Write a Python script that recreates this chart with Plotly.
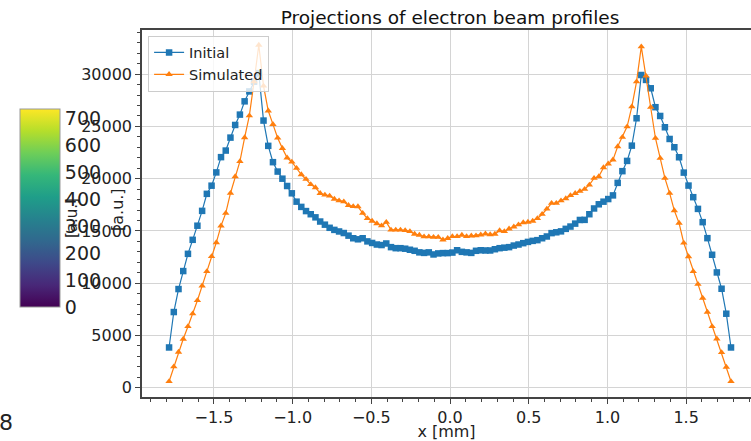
import numpy as np
import plotly.graph_objects as go

# ---- data -------------------------------------------------------------
# 120 histogram bins over [-1.8, 1.8] mm; points are bin centres
bin_edges = np.linspace(-1.8, 1.8, 121)
x_mm = ((bin_edges[:-1] + bin_edges[1:]) / 2).round(3).tolist()

initial = [
    3850, 7240, 9440, 11160, 12810, 14150, 15500, 16920, 18550, 19330,
    20600, 22060, 22690, 23930, 25140, 26130, 27400, 28350, 29280, 30100,
    25560, 23140, 21580, 20680, 20000, 19300, 18600, 17800, 17300, 16900,
    16600, 16300, 15900, 15600, 15300, 15100, 14950, 14800, 14550, 14300,
    14200, 14300, 14000, 13850, 13700, 13650, 13800, 13450, 13350, 13350,
    13300, 13200, 13100, 12950, 12900, 12950, 12750, 12850, 12880, 12880,
    12930, 13150, 13000, 12950, 12900, 13100, 13150, 13130, 13130, 13250,
    13350, 13400, 13450, 13600, 13700, 13830, 13950, 14050, 14120, 14300,
    14470, 14790, 14870, 14960, 15200, 15420, 15700, 16050, 16060, 16600,
    17150, 17550, 17800, 18050, 18400, 19600, 20720, 21700, 23160, 25780,
    29920, 29450, 28650, 26840, 26000, 24920, 23800, 23010, 22050, 20580,
    19340, 18230, 17110, 15840, 14310, 12720, 11030, 9470, 7080, 3850,
]

simulated = [
    600, 2010, 3410, 4660, 5860, 7080, 8350, 9750, 11120, 12560,
    13890, 15490, 16700, 18610, 20200, 21650, 23930, 26030, 29280, 32790,
    28870, 26500, 25200, 23900, 22900, 22000, 21600, 21000, 20400, 19950,
    19450, 19150, 18600, 18450, 18350, 18050, 17900, 17800, 17450, 17350,
    17330, 16700, 16200, 15950, 15700, 15500, 15840, 15100, 15100, 15100,
    15050, 14950, 14700, 14600, 14450, 14450, 14400, 14400, 14150, 14300,
    14470, 14470, 14600, 14470, 14530, 14550, 14630, 14720, 14650, 14700,
    15040, 14950, 15200, 15400, 15600, 15800, 15850, 15950, 16200, 16600,
    17100, 17650, 17660, 17900, 18100, 18400, 18600, 18800, 19000, 19400,
    20050, 20200, 21060, 21420, 21800, 23070, 23970, 24980, 26890, 29280,
    32630, 29830, 26840, 23870, 21960, 20050, 18610, 16950, 15750, 13850,
    12550, 11120, 9910, 8580, 7240, 5860, 4680, 3380, 1980, 600,
]

x_ticks = [-1.5, -1.0, -0.5, 0.0, 0.5, 1.0, 1.5]
y_ticks = [0, 5000, 10000, 15000, 20000, 25000, 30000]
cbar_ticks = [0, 100, 200, 300, 400, 500, 600, 700]
cbar_max = 733

# ---- figure -----------------------------------------------------------
W, H = 751, 441
L, R, T, B = 142, 0, 30, 44
FONT = "DejaVu Sans"
pw = W - L - R
ph = H - T - B


def px_to_paper(px, py):
    return (px - L) / pw, (H - B - py) / ph


fig = go.Figure()

fig.add_trace(go.Scatter(
    x=x_mm, y=initial, mode="lines+markers", name="Initial",
    line=dict(color="#1f77b4", width=1.2),
    marker=dict(symbol="square", size=6.5, color="#1f77b4",
                line=dict(color="#1f77b4", width=0)),
))
fig.add_trace(go.Scatter(
    x=x_mm, y=simulated, mode="lines+markers", name="Simulated",
    line=dict(color="#ff7f0e", width=1.2),
    marker=dict(symbol="triangle-up", size=6.5, color="#ff7f0e",
                line=dict(color="#ff7f0e", width=0)),
))

# dummy trace carrying the colour bar
cbx, cby = px_to_paper(20, 208)
fig.add_trace(go.Scatter(
    x=[None], y=[None], mode="markers", showlegend=False, hoverinfo="skip",
    marker=dict(
        color=[0], colorscale="Viridis", cmin=0, cmax=cbar_max, showscale=True,
        colorbar=dict(
            x=cbx, xanchor="left",
            y=cby, yanchor="middle",
            thickness=40, thicknessmode="pixels",
            len=198, lenmode="pixels",
            xpad=0, ypad=0,
            outlinewidth=1, outlinecolor="#999999",
            tickvals=cbar_ticks, ticks="",
            tickfont=dict(family=FONT, size=19, color="#222222"),
        ),
    ),
))

axis_line = "#444444"
grid_col = "#d4d4d4"

fig.update_layout(
    width=W, height=H,
    margin=dict(l=L, r=R, t=T, b=B, autoexpand=False),
    paper_bgcolor="white", plot_bgcolor="white",
    font=dict(family=FONT, size=16, color="#222222"),
    title=dict(
        text="Projections of electron beam profiles",
        xref="container", yref="container",
        x=450 / W, xanchor="center",
        y=(H - 18) / H, yanchor="middle",
        font=dict(family=FONT, size=18.5, color="#111111"),
    ),
    xaxis=dict(
        range=[-1.957, 1.912], automargin=False,
        tickvals=x_ticks, tickformat=".1f",
        showgrid=True, gridcolor=grid_col, gridwidth=1.3,
        zeroline=False,
        showline=True, linecolor=axis_line, linewidth=1.5, mirror=True,
        ticks="outside", ticklen=5, tickcolor=axis_line, tickwidth=1,
        minor=dict(dtick=0.1, tick0=0, ticks="outside", ticklen=3,
                   tickcolor=axis_line, showgrid=False),
        tickfont=dict(size=16),
        title=dict(text="x [mm]", standoff=2, font=dict(size=16)),
    ),
    yaxis=dict(
        range=[-889, 34226], automargin=False,
        tickvals=y_ticks, tickformat="d",
        showgrid=True, gridcolor=grid_col, gridwidth=1.3,
        zeroline=False,
        showline=True, linecolor=axis_line, linewidth=1.5, mirror=False,
        ticks="outside", ticklen=5, tickcolor=axis_line, tickwidth=1,
        minor=dict(dtick=1000, tick0=0, ticks="outside", ticklen=3,
                   tickcolor=axis_line, showgrid=False),
        tickfont=dict(size=16),
    ),
    legend=dict(
        x=0.01, y=0.985, xanchor="left", yanchor="top",
        bgcolor="rgba(255,255,255,0.8)",
        bordercolor="#cccccc", borderwidth=1,
        font=dict(family=FONT, size=14.5, color="#222222"),
        itemwidth=30, tracegroupgap=0,
    ),
    showlegend=True,
)

# y-axis label of the profiles panel
ax, ay = px_to_paper(117, 210)
fig.add_annotation(text="[a.u.]", x=ax, y=ay, xref="paper", yref="paper",
                   xanchor="center", yanchor="middle",
                   textangle=-90, showarrow=False,
                   font=dict(family=FONT, size=16, color="#222222"))

# colour-bar label
cx, cy = px_to_paper(72, 218)
fig.add_annotation(text="[a.u.]", x=cx, y=cy, xref="paper", yref="paper",
                   xanchor="center", yanchor="middle",
                   textangle=-90, showarrow=False,
                   font=dict(family=FONT, size=15, color="#222222"))

# stray label in lower-left corner
sx, sy = px_to_paper(6, 422)
fig.add_annotation(text="8", x=sx, y=sy, xref="paper", yref="paper",
                   xanchor="center", yanchor="middle",
                   showarrow=False,
                   font=dict(family=FONT, size=22, color="#222222"))

fig.write_html("out.html")
